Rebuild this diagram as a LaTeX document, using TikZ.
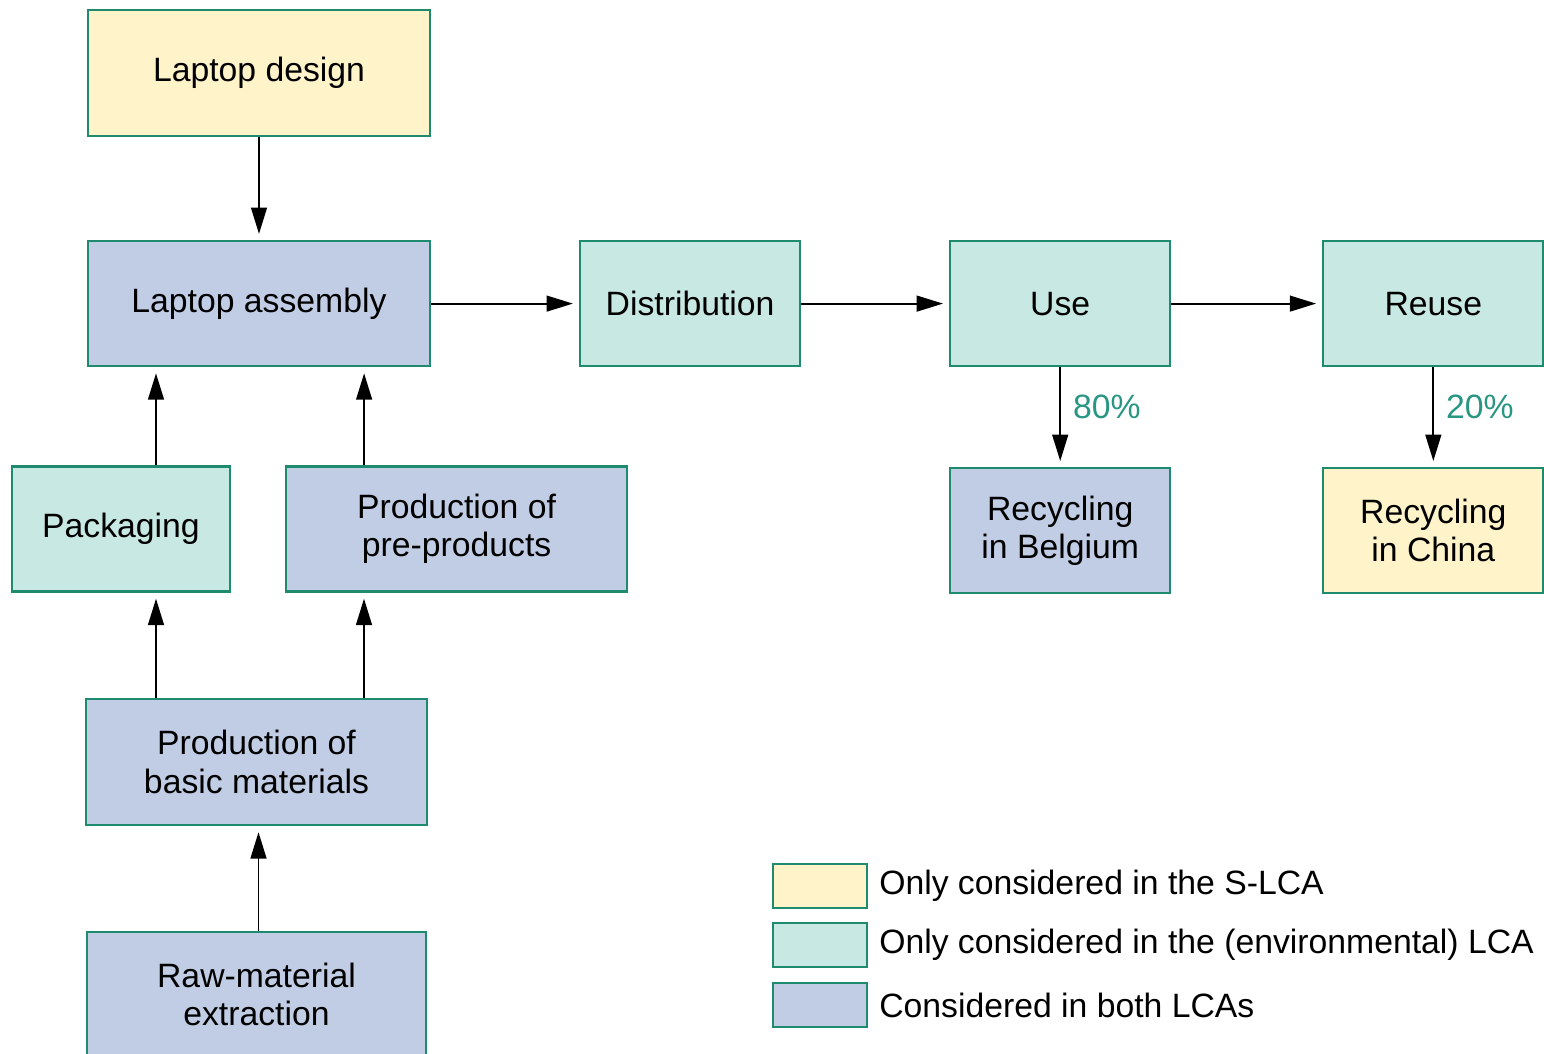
\documentclass[tikz,border=0pt]{standalone}
\usepackage{fontspec}
\setmainfont{Liberation Sans}
\usetikzlibrary{%
	arrows.meta,%
	positioning,%
}
\definecolor{cyellowlight}{RGB}{255, 243, 201}
\definecolor{cmintlight}{RGB}{200, 233, 227}
\definecolor{cbluelight}{RGB}{192, 205, 228}
\definecolor{cgreenborder}{RGB}{30, 138, 110}
\definecolor{cshare}{RGB}{40, 150, 130}
\newcommand{\diagfont}{\fontsize{19.2}{21.8}\selectfont}
\tikzset{
	>={Triangle[length=15pt, width=9pt]},%
	nodes={align=center},%
	stage/.style={%
			draw=cgreenborder,%
			rectangle,%
			line width=1.2pt,%
			minimum height=2.5cm,%
			text=black,%
			font=\diagfont},%
	sonlynode/.style={stage, fill=cyellowlight},%
	envonlynode/.style={stage, fill=cmintlight},%
	bothnode/.style={stage, fill=cbluelight},%
	flow/.style={->, line width=1.1pt, shorten >=3.5pt},%
	share/.style={text=cshare, font=\diagfont},%
	legendbox/.style={%
			draw=cgreenborder,%
			rectangle,%
			line width=1.2pt,%
			minimum width=1.88cm,%
			minimum height=0.88cm},%
	legendtext/.style={font=\diagfont, text=black},%
}

\begin{document}
\begin{tikzpicture}
	\useasboundingbox (0,0) rectangle (30.88,-21.08);

	\node[sonlynode, minimum width=6.84cm, minimum height=2.52cm] (design) at (5.18,-1.46) {Laptop design};

	\node[bothnode, minimum width=6.84cm] (assembly) [below=2.06cm of design] {Laptop assembly};

	\node[envonlynode, minimum width=4.4cm] (distribution) [right=2.96cm of assembly] {Distribution};

	\node[envonlynode, minimum width=4.4cm] (use) [right=2.96cm of distribution] {Use};

	\node[envonlynode, minimum width=4.4cm] (reuse) [right=3.02cm of use] {Reuse};

	\node[bothnode, minimum width=4.4cm] (belgium) [below=2cm of use] {Recycling\\in Belgium};

	\node[sonlynode, minimum width=4.4cm] (china) [below=2cm of reuse] {Recycling\\in China};

	\node[envonlynode, minimum width=4.36cm] (packaging) at (2.42,-10.58) {Packaging};

	\node[bothnode, minimum width=6.82cm] (preproducts) [right=1.08cm of packaging] {Production of\\pre-products};

	\node[bothnode, minimum width=6.82cm, minimum height=2.52cm] (basic) at (5.13,-15.24) {Production of\\basic materials};

	\node[bothnode, minimum width=6.78cm] (raw) [below=2.1cm of basic] {Raw-material\\extraction};

	% legend
	\node[legendbox, fill=cyellowlight] (keysonly) at (16.4,-17.72) {};
	\node[legendbox, fill=cmintlight] (keyenv) [below=0.26cm of keysonly] {};
	\node[legendbox, fill=cbluelight] (keyboth) [below=0.28cm of keyenv] {};

	\node[legendtext, right=0.1cm of keysonly] (txtsonly) {Only considered in the S-LCA};
	\node[legendtext, right=0.1cm of keyenv] (txtenv) {Only considered in the (environmental) LCA};
	\node[legendtext, right=0.1cm of keyboth] (txtboth) {Considered in both LCAs};

	\draw[flow] (design) to (assembly);
	\draw[flow] (assembly) to (distribution);
	\draw[flow] (distribution) to (use);
	\draw[flow] (use) to (reuse);
	\draw[flow] (use) to node[share, right=0.12cm, pos=0.4] (shareb) {80\%} (belgium);
	\draw[flow] (reuse) to node[share, right=0.12cm, pos=0.4] (sharec) {20\%} (china);
	\draw[flow] ([xshift=0.7cm]packaging.north) to ([xshift=0.7cm]packaging.north |- assembly.south);
	\draw[flow] ([xshift=-1.85cm]preproducts.north) to ([xshift=-1.85cm]preproducts.north |- assembly.south);
	\draw[flow] ([xshift=-2.01cm]basic.north) to ([xshift=-2.01cm]basic.north |- packaging.south);
	\draw[flow] ([xshift=2.15cm]basic.north) to ([xshift=2.15cm]basic.north |- preproducts.south);
	\draw[flow] ([xshift=0.04cm]raw.north) to ([xshift=0.04cm]raw.north |- basic.south);
\end{tikzpicture}
\end{document}
